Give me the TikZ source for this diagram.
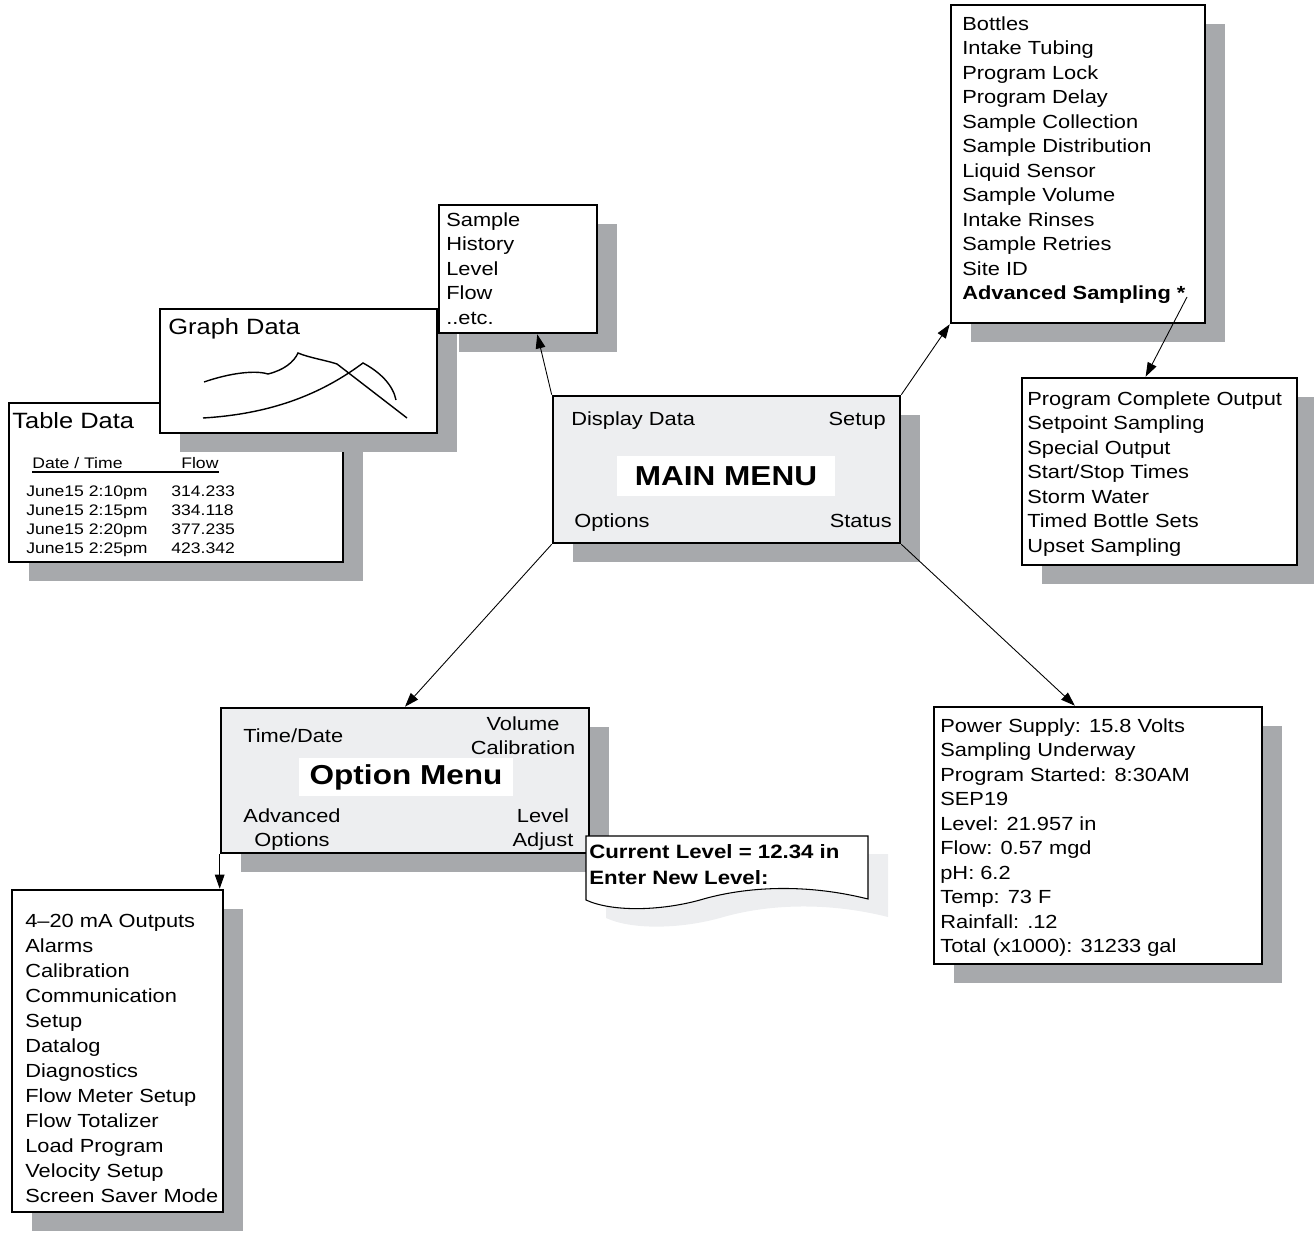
\documentclass[tikz,border=0pt]{standalone}
\usepackage{fontspec}
\setmainfont{Liberation Sans}[FakeStretch=1.15]
\usetikzlibrary{arrows.meta,calc,fit,shadows}

\definecolor{menugray}{RGB}{237,238,240}
\definecolor{shadowgray}{RGB}{167,169,172}

\tikzstyle{panel} = [draw, line width=1.5pt, fill=white, inner sep=0pt, drop shadow={shadow xshift=0.4cm, shadow yshift=-0.38cm, fill=shadowgray, opacity=1}]
\tikzstyle{menupanel} = [panel, fill=menugray]
\tikzstyle{itemlist} = [anchor=north west, inner sep=0pt, align=left, font=\fontsize{10.8}{13.94}\selectfont]
\tikzstyle{keytext} = [inner sep=0pt, font=\fontsize{10.8}{13.7}\selectfont]
\tikzstyle{boxtitle} = [anchor=base west, inner sep=0pt, font=\fontsize{12.6}{15}\selectfont]
\tikzstyle{tablerow} = [inner sep=0pt, align=left, font=\fontsize{8.7}{10.98}\selectfont]
\tikzstyle{titlebar} = [fill=white, inner sep=0pt, font=\bfseries\fontsize{15.6}{18}\selectfont]
\tikzstyle{link} = [line width=0.5pt, -{Triangle[length=8pt,width=5.5pt]}]

\begin{document}
\begin{tikzpicture}[x=0.02cm, y=-0.02cm]
\useasboundingbox (0,0) rectangle (1314,1236);

\node[panel, fit={(9,403) (343,562)}] (table) {};
\node[boxtitle] (tabletitle) at (12,428) {Table Data};
\node[tablerow, anchor=base west] (hdate) at (32,468) {Date / Time};
\node[tablerow, anchor=base west] (hflow) at (181,468) {Flow};
\draw[line width=0.6pt] ([yshift=-0.08cm]hdate.base west) -- ([yshift=-0.08cm]hflow.base east);
\node[tablerow, anchor=north west] (dates) at (26,485) {June15 2:10pm\\June15 2:15pm\\June15 2:20pm\\June15 2:25pm};
\node[tablerow, anchor=north west] (flows) at (171,485) {314.233\\334.118\\377.235\\423.342};

\node[panel, fit={(160,309) (437,433)}] (graph) {};
\node[boxtitle] (graphtitle) at (168,335) {Graph Data};
\draw[line width=0.8pt] (204,382) .. controls (230,373) and (255,370) .. (268,374)
    .. controls (284,370) and (294,362) .. (298,353)
    .. controls (310,358) and (325,360) .. (337,364) -- (407,418);
\draw[line width=0.8pt] (203,418) .. controls (270,414) and (320,395) .. (363,363)
    .. controls (380,372) and (393,385) .. (396,400);

\node[panel, fit={(439,205) (597,333)}] (samp) {};
\node[itemlist] (samptext) at (446,212) {Sample\\History\\Level\\Flow\\..etc.};

\node[panel, fit={(951,5) (1205,323)}] (setup) {};
\node[itemlist] (setuptext) at (962,16) {Bottles\\Intake Tubing\\Program Lock\\Program Delay\\Sample Collection\\Sample Distribution\\Liquid Sensor\\Sample Volume\\Intake Rinses\\Sample Retries\\Site ID\\\textbf{Advanced Sampling *}};
\coordinate (star) at (1187,297);

\node[panel, fit={(1022,378) (1297,565)}] (adv) {};
\node[itemlist] (advtext) at (1027,391) {Program Complete Output\\Setpoint Sampling\\Special Output\\Start/Stop Times\\Storm Water\\Timed Bottle Sets\\Upset Sampling};

\node[menupanel, fit={(553,396) (900,543)}] (main) {};
\node[keytext, anchor=base west] (displaykey) at (571,425) {Display Data};
\node[keytext, anchor=base east] (setupkey) at (886,425) {Setup};
\node[keytext, anchor=base west] (optionskey) at (574,527) {Options};
\node[keytext, anchor=base east] (statuskey) at (892,527) {Status};
\node[titlebar, minimum width=4.38cm, minimum height=0.82cm] (maintitle) at (726,476) {MAIN MENU};

\node[menupanel, fit={(221,708) (589,853)}] (opt) {};
\node[keytext, anchor=base west] (timedate) at (243,742) {Time/Date};
\node[keytext, anchor=north, align=center] (volcal) at (523,716) {Volume\\Calibration};
\node[titlebar, minimum width=4.3cm, minimum height=0.76cm] (opttitle) at (406,777) {Option Menu};
\node[keytext, anchor=north, align=center] (advopt) at (292,808) {Advanced\\Options};
\node[keytext, anchor=north, align=center] (lvladj) at (543,808) {Level\\Adjust};

\fill[menugray, shift={(20,18)}] (586,836) -- (868,836) -- (868,899) .. controls (800,882) and (740,888) .. (700,900) .. controls (660,911) and (612,912) .. (586,900) -- cycle;
\draw[line width=0.6pt, fill=white] (586,836) -- (868,836) -- (868,899) .. controls (800,882) and (740,888) .. (700,900) .. controls (660,911) and (612,912) .. (586,900) -- cycle;
\node[anchor=north west, inner sep=0pt, align=left, font=\bfseries\fontsize{11}{14.8}\selectfont] (prompt) at (589,844) {Current Level = 12.34 in\\Enter New Level:};

\node[panel, fit={(934,707) (1262,964)}] (status) {};
\node[itemlist] (statustext) at (940,718) {Power Supply: 15.8 Volts\\Sampling Underway\\Program Started: 8:30AM\\SEP19\\Level: 21.957 in\\Flow: 0.57 mgd\\pH: 6.2\\Temp: 73 F\\Rainfall: .12\\Total (x1000): 31233 gal};

\node[panel, fit={(12,890) (223,1212)}] (optlist) {};
\node[itemlist, font=\fontsize{10.8}{14.2}\selectfont] (optlisttext) at (25,914) {4--20 mA Outputs\\Alarms\\Calibration\\Communication\\Setup\\Datalog\\Diagnostics\\Flow Meter Setup\\Flow Totalizer\\Load Program\\Velocity Setup\\Screen Saver Mode};

\draw[link] (main.north west) -- ($(samp.south west)!0.62!(samp.south east)$);
\draw[link] (main.north east) -- (setup.south west);
\draw[link] (star) -- ($(adv.north west)!0.45!(adv.north east)$);
\draw[link] (main.south west) -- (opt.north);
\draw[link] (main.south east) -- ($(status.north west)!0.43!(status.north east)$);
\draw[link] (opt.south west) -- (opt.south west |- optlist.north);
\end{tikzpicture}
\end{document}
